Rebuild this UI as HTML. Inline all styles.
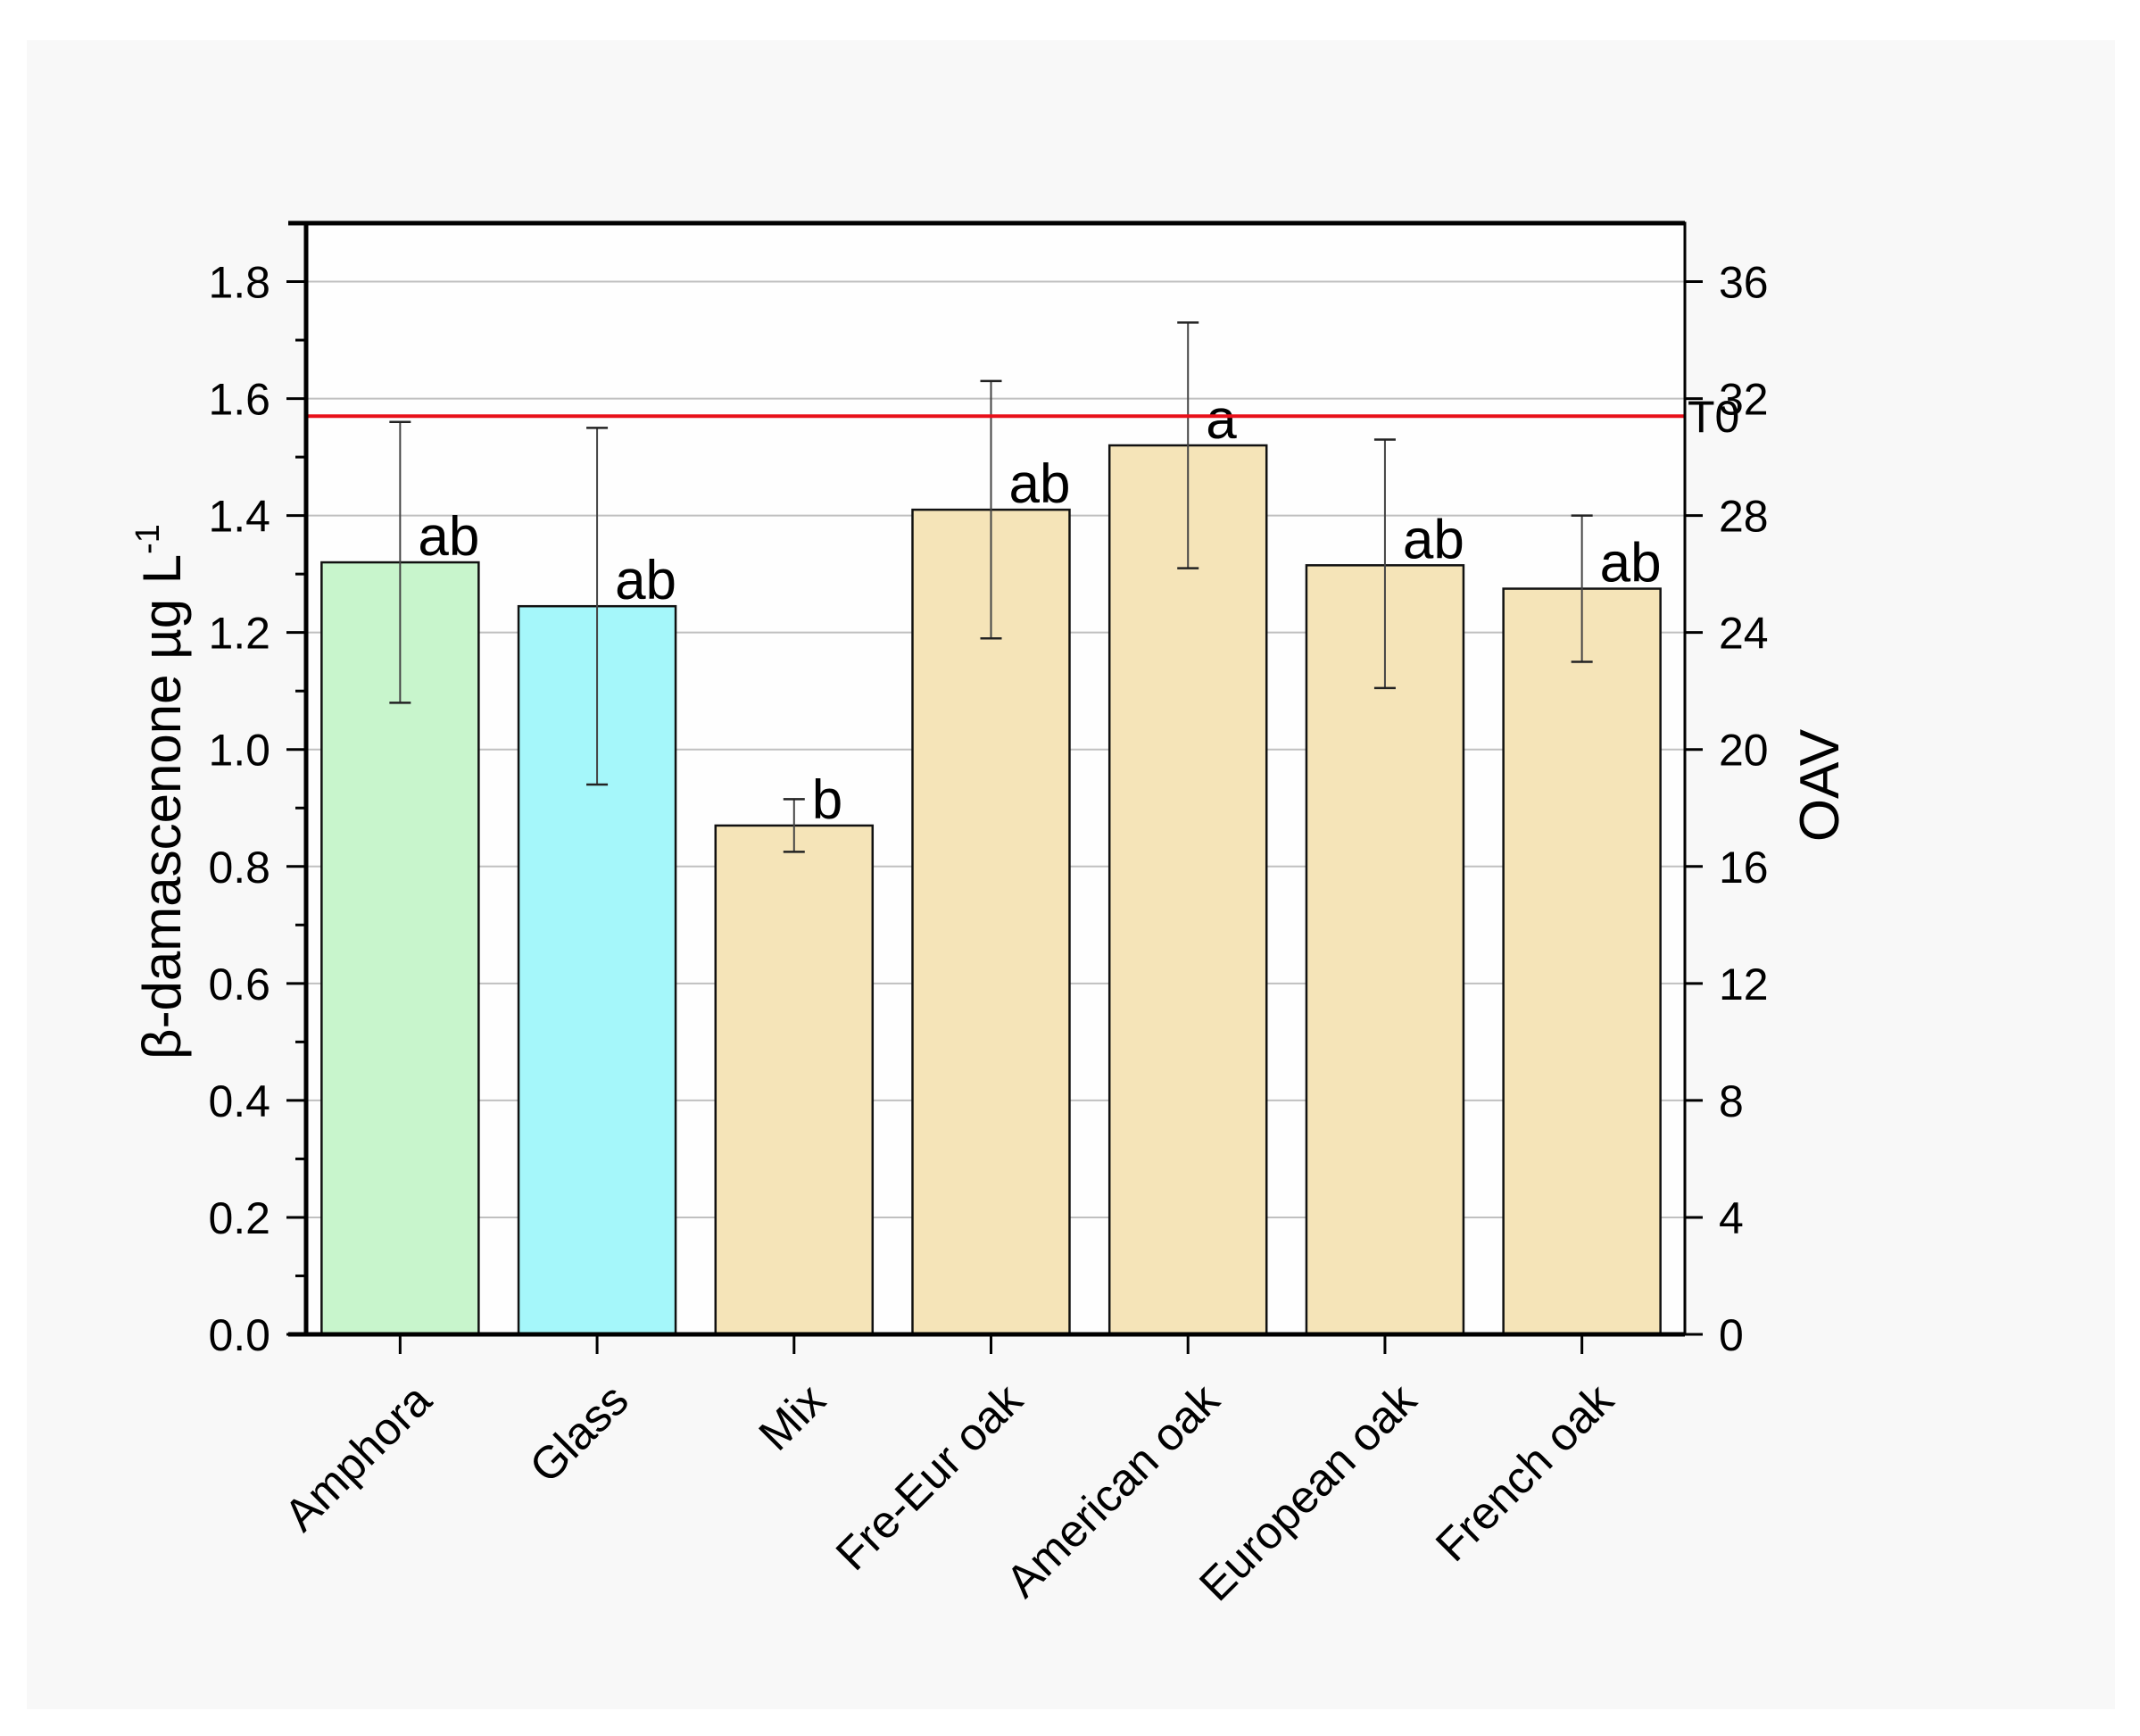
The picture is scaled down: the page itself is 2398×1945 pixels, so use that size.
<!DOCTYPE html>
<html><head><meta charset="utf-8"><style>
html,body{margin:0;padding:0;background:#fff;}
svg{display:block;font-family:"Liberation Sans",Arial,sans-serif;}
</style></head><body>
<svg id="chart" width="2398" height="1945" viewBox="0 0 2398 1945" xmlns="http://www.w3.org/2000/svg">
<rect x="30" y="45" width="2340" height="1870" fill="#f8f8f8"/>
<rect x="343" y="250" width="1545" height="1245" fill="#fefefe"/>
<g id="grid"></g>
<g id="bars"></g>
<g id="axes"></g>
<text transform="translate(202,887) rotate(-90)" text-anchor="middle" font-size="60">β-damascenone µg L<tspan font-size="38" dy="-24">-1</tspan></text>
<text transform="translate(2060,880) rotate(-90)" text-anchor="middle" font-size="62">OAV</text>
</svg>
<script>
const categories = ["Amphora","Glass","Mix","Fre-Eur oak","American oak","European oak","French oak"];
const values = [1.32,1.245,0.87,1.41,1.52,1.315,1.275];
const errLow = [1.08,0.94,0.825,1.19,1.31,1.105,1.15];
const errHigh = [1.56,1.55,0.915,1.63,1.73,1.53,1.40];
const letters = ["ab","ab","b","ab","a","ab","ab"];
const fills = ["#c8f5cc","#a5f7fa","#f5e4b8","#f5e4b8","#f5e4b8","#f5e4b8","#f5e4b8"];
const yTicks = [0,0.2,0.4,0.6,0.8,1.0,1.2,1.4,1.6,1.8];
const y2Ticks = [0,4,8,12,16,20,24,28,32,36];
const thresholdValue = 1.57;
const oavFactor = 20;

const NS="http://www.w3.org/2000/svg";
const L=343,R=1888,T=250,B=1495,yMax=1.9;
function yAt(v){return B-(v/yMax)*(B-T);}
const band=(R-L)/categories.length;
function xAt(i){return L+band*(i+0.5)-5;}
function mk(tag,attrs,parent){const e=document.createElementNS(NS,tag);for(const k in attrs)e.setAttribute(k,attrs[k]);parent.appendChild(e);return e;}
const grid=document.getElementById('grid'),bars=document.getElementById('bars'),axes=document.getElementById('axes');

yTicks.forEach(v=>{ if(v===0)return;
  const g=mk('line',{x1:L,x2:R,y1:yAt(v),y2:yAt(v),stroke:'#c0c0c0','stroke-width':2},grid);
  
  
});

const bw=176;
categories.forEach((c,i)=>{
  const x=xAt(i);
  const r=mk('rect',{x:x-bw/2,y:yAt(values[i]),width:bw,height:B-yAt(values[i]),fill:fills[i],stroke:'#111','stroke-width':2.5},bars);
  
  
  const e=mk('line',{x1:x,x2:x,y1:yAt(errHigh[i]),y2:yAt(errLow[i]),stroke:'#444','stroke-width':2},bars);
  
  
  [errHigh[i],errLow[i]].forEach(v=>{
    const cp=mk('line',{x1:x-12,x2:x+12,y1:yAt(v),y2:yAt(v),stroke:'#222','stroke-width':2.5},bars);
    
    
  });
  const t=mk('text',{x:x+20,y:yAt(values[i])-8,'font-size':62,fill:'#000'},bars);
  t.textContent=letters[i];
  
  
  const tk=mk('line',{x1:x,x2:x,y1:B,y2:B+22,stroke:'#000','stroke-width':3},axes);
  
  
  const lb=mk('text',{transform:`translate(${x+38},${B+77}) rotate(-45)`,'text-anchor':'end','font-size':51},axes);
  lb.textContent=c;
  
  
});

const th=mk('line',{x1:L,x2:R,y1:yAt(thresholdValue),y2:yAt(thresholdValue),stroke:'#e8101a','stroke-width':4},bars);


const tl=mk('text',{x:R+3,y:yAt(thresholdValue)+18,'font-size':50},bars);
tl.textContent='T0';



const frame=mk('rect',{x:L,y:T,width:R-L,height:B-T,fill:'none',stroke:'#000','stroke-width':3},axes);


mk('line',{x1:L,x2:L,y1:T,y2:B,stroke:'#000','stroke-width':5},axes);
mk('line',{x1:L-20,x2:R,y1:T,y2:T,stroke:'#000','stroke-width':5},axes);
mk('line',{x1:L-20,x2:R,y1:B,y2:B,stroke:'#000','stroke-width':5},axes);

yTicks.forEach(v=>{
  const tk=mk('line',{x1:L-22,x2:L,y1:yAt(v),y2:yAt(v),stroke:'#000','stroke-width':3},axes);
  
  
  if(v<1.8){const m=mk('line',{x1:L-12,x2:L,y1:yAt(v+0.1),y2:yAt(v+0.1),stroke:'#000','stroke-width':3},axes);
  
  }
  const t=mk('text',{x:L-40,y:yAt(v)+18,'text-anchor':'end','font-size':50},axes);
  t.textContent=v.toFixed(1);
  
  
});
y2Ticks.forEach(v=>{
  const yy=yAt(v/oavFactor);
  const tk=mk('line',{x1:R,x2:R+20,y1:yy,y2:yy,stroke:'#000','stroke-width':3},axes);
  
  
  const t=mk('text',{x:R+38,y:yy+18,'font-size':50},axes);
  t.textContent=v;
  
  
});
</script>
</body></html>
